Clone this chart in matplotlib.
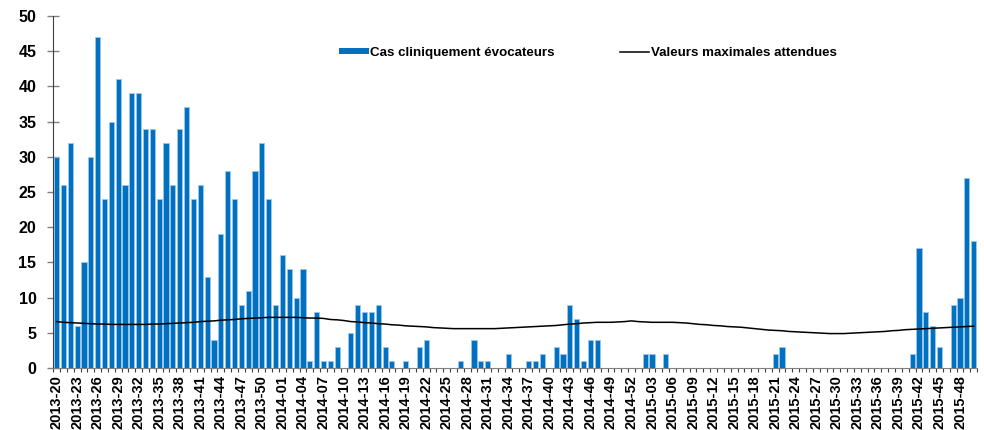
import matplotlib.pyplot as plt
import numpy as np
from matplotlib.patches import Patch
from matplotlib.lines import Line2D

plt.rcParams['font.family'] = ['Liberation Sans', 'DejaVu Sans']
plt.rcParams['font.weight'] = 'bold'

# semaines epidemiologiques 2013-20 .. 2015-50
weeks = ([f'2013-{w:02d}' for w in range(20, 53)] +
         [f'2014-{w:02d}' for w in range(1, 53)] +
         [f'2015-{w:02d}' for w in range(1, 51)])

# Cas cliniquement evocateurs
cases = [30, 26, 32, 6, 15, 30, 47, 24, 35, 41,
         26, 39, 39, 34, 34, 24, 32, 26, 34, 37,
         24, 26, 13, 4, 19, 28, 24, 9, 11, 28,
         32, 24, 9, 16, 14, 10, 14, 1, 8, 1,
         1, 3, 0, 5, 9, 8, 8, 9, 3, 1,
         0, 1, 0, 3, 4, 0, 0, 0, 0, 1,
         0, 4, 1, 1, 0, 0, 2, 0, 0, 1,
         1, 2, 0, 3, 2, 9, 7, 1, 4, 4,
         0, 0, 0, 0, 0, 0, 2, 2, 0, 2,
         0, 0, 0, 0, 0, 0, 0, 0, 0, 0,
         0, 0, 0, 0, 0, 2, 3, 0, 0, 0,
         0, 0, 0, 0, 0, 0, 0, 0, 0, 0,
         0, 0, 0, 0, 0, 2, 17, 8, 6, 3,
         0, 9, 10, 27, 18]

# Valeurs maximales attendues
expected = [6.6, 6.5, 6.45, 6.4, 6.35, 6.3, 6.25, 6.25, 6.2, 6.2,
            6.2, 6.2, 6.2, 6.2, 6.25, 6.25, 6.3, 6.35, 6.4, 6.45,
            6.5, 6.6, 6.65, 6.7, 6.8, 6.85, 6.9, 7.0, 7.05, 7.1,
            7.15, 7.2, 7.2, 7.2, 7.2, 7.2, 7.15, 7.1, 7.1, 7.05,
            6.9, 6.85, 6.75, 6.6, 6.55, 6.45, 6.4, 6.3, 6.25, 6.15,
            6.1, 6.0, 5.95, 5.9, 5.85, 5.75, 5.7, 5.65, 5.6, 5.6,
            5.6, 5.6, 5.6, 5.6, 5.6, 5.65, 5.7, 5.75, 5.8, 5.85,
            5.9, 5.95, 6.0, 6.05, 6.15, 6.25, 6.3, 6.4, 6.45, 6.5,
            6.5, 6.5, 6.55, 6.6, 6.7, 6.6, 6.55, 6.5, 6.5, 6.5,
            6.5, 6.45, 6.4, 6.3, 6.2, 6.15, 6.05, 6.0, 5.9, 5.85,
            5.8, 5.7, 5.6, 5.5, 5.4, 5.35, 5.3, 5.2, 5.15, 5.1,
            5.05, 5.0, 4.95, 4.9, 4.9, 4.9, 4.95, 5.0, 5.05, 5.1,
            5.15, 5.2, 5.3, 5.35, 5.45, 5.5, 5.55, 5.6, 5.65, 5.7,
            5.75, 5.8, 5.85, 5.9, 5.95]

bar_color = '#0070C0'
x = np.arange(len(weeks))

fig = plt.figure(figsize=(9.84, 4.30), dpi=100)
ax = fig.add_axes([0.054, 0.144, 0.939, 0.819])

ax.bar(x, cases, width=0.75, color=bar_color, edgecolor='#9cc7ea', linewidth=0.6, zorder=2)
ax.plot(x, expected, color='black', linewidth=1.1, zorder=3)

ax.set_xlim(-0.5, len(weeks) - 0.5)
ax.set_ylim(0, 50)
ax.set_yticks(range(0, 51, 5))
ax.tick_params(axis='y', direction='inout', length=8, width=1, color='#808080',
               pad=8, labelsize=11.5)

ax.set_xticks(x[::3])
ax.set_xticklabels(weeks[::3], rotation=90, ha='center', va='top')
ax.set_xticks(np.arange(-0.5, len(weeks), 1), minor=True)
ax.tick_params(axis='x', which='major', length=0, pad=5, labelsize=10.5)
ax.tick_params(axis='x', which='minor', direction='out', length=3, width=0.8, color='#404040')

for s in ['top', 'right']:
    ax.spines[s].set_visible(False)
ax.spines['left'].set_color('#404040')
ax.spines['bottom'].set_color('#808080')

handles = [Patch(facecolor=bar_color, edgecolor='none'),
           Line2D([], [], color='black', linewidth=1.1)]
labels = ['Cas cliniquement évocateurs', 'Valeurs maximales attendues']
ax.legend(handles, labels, loc='center left', bbox_to_anchor=(0.345, 0.877),
          bbox_transform=fig.transFigure, ncol=2, frameon=False,
          fontsize=9.6, handlelength=2.2, handleheight=0.35, handletextpad=0.1,
          columnspacing=4.9, borderpad=0, borderaxespad=0)

fig.savefig('out.png', dpi=100)
